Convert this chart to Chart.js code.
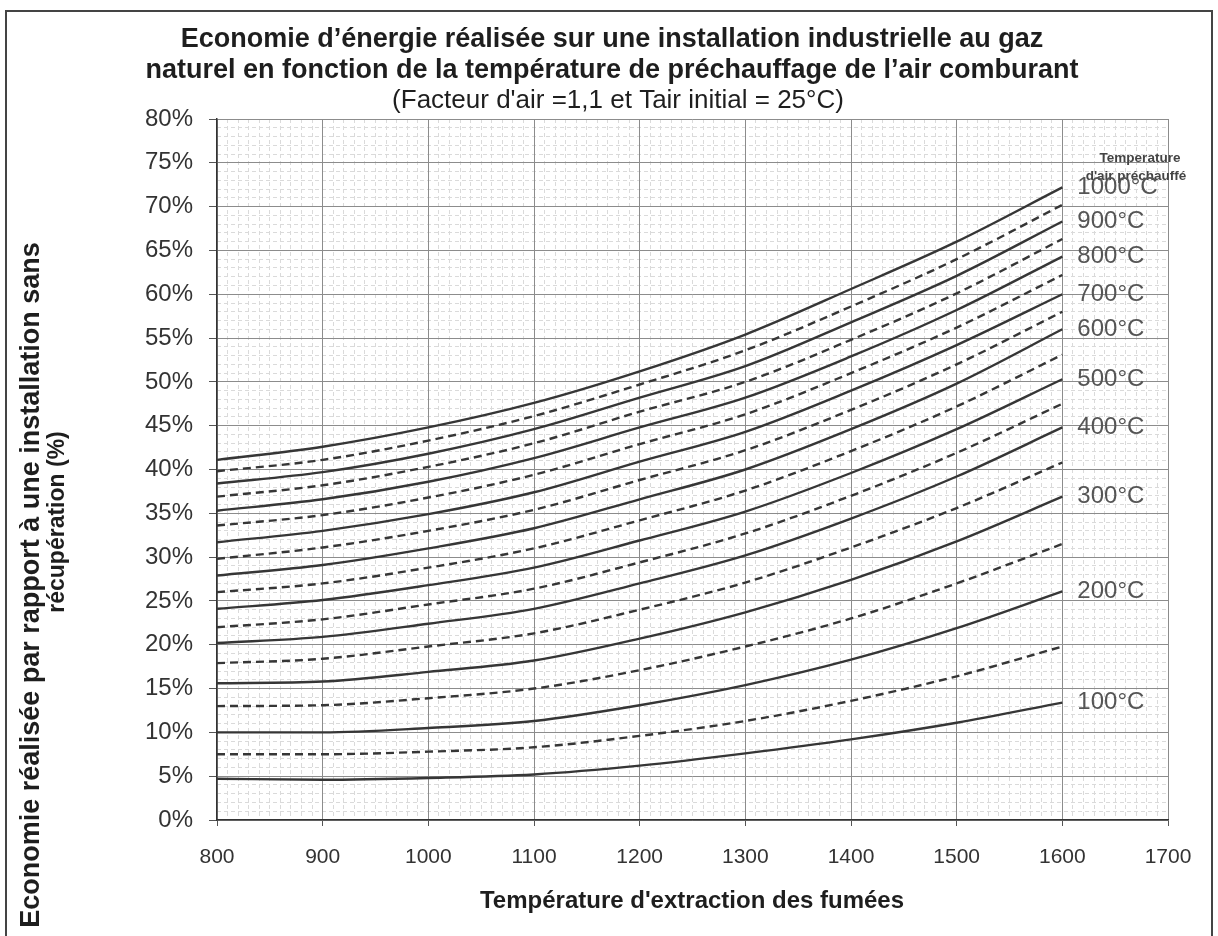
<!DOCTYPE html>
<html>
<head>
<meta charset="utf-8">
<script src="https://cdn.jsdelivr.net/npm/chart.js@4.4.1/dist/chart.umd.min.js"></script>
<style>
  body { margin: 0; background: #fff; }
  #wrap { position: relative; width: 1218px; height: 936px; }
</style>
</head>
<body>
<div id="wrap"><canvas id="chart" width="1218" height="936"></canvas></div>
<script>
// Température d'extraction des fumées (°C)
const extractionTemps = [800, 900, 1000, 1100, 1200, 1300, 1400, 1500, 1600];

// Economie réalisée (%) pour chaque température d'air préchauffé
const save100 = [4.7, 4.6, 4.8, 5.2, 6.2, 7.6, 9.2, 11.1, 13.4];
const save150 = [7.5, 7.5, 7.8, 8.3, 9.6, 11.3, 13.6, 16.4, 19.8];
const save200 = [10.0, 10.0, 10.5, 11.3, 13.1, 15.4, 18.3, 21.9, 26.1];
const save250 = [13.0, 13.1, 13.9, 15.0, 17.1, 19.8, 23.0, 27.0, 31.5];
const save300 = [15.6, 15.8, 16.9, 18.2, 20.7, 23.7, 27.4, 31.8, 36.9];
const save350 = [17.9, 18.4, 19.8, 21.3, 24.0, 27.1, 31.1, 35.6, 40.8];
const save400 = [20.2, 20.9, 22.4, 24.1, 27.0, 30.2, 34.4, 39.2, 44.8];
const save450 = [22.0, 22.9, 24.6, 26.4, 29.4, 32.7, 37.0, 41.9, 47.5];
const save500 = [24.1, 25.1, 26.8, 28.8, 31.9, 35.2, 39.6, 44.6, 50.3];
const save550 = [26.0, 27.0, 28.8, 31.0, 34.2, 37.6, 42.1, 47.2, 53.1];
const save600 = [27.9, 29.1, 31.0, 33.3, 36.6, 40.0, 44.6, 49.8, 56.0];
const save650 = [29.8, 31.1, 33.0, 35.4, 38.8, 42.2, 46.8, 52.0, 58.0];
const save700 = [31.7, 33.0, 34.9, 37.4, 40.9, 44.3, 49.0, 54.2, 60.0];
const save750 = [33.6, 34.8, 36.8, 39.4, 42.9, 46.3, 51.0, 56.2, 62.2];
const save800 = [35.3, 36.6, 38.6, 41.3, 44.8, 48.2, 52.9, 58.2, 64.3];
const save850 = [36.9, 38.2, 40.3, 43.0, 46.6, 50.0, 54.8, 60.1, 66.3];
const save900 = [38.4, 39.7, 41.8, 44.6, 48.2, 51.8, 56.8, 62.1, 68.3];
const save950 = [39.8, 41.1, 43.3, 46.1, 49.7, 53.6, 58.6, 64.0, 70.2];
const save1000 = [41.1, 42.6, 44.8, 47.6, 51.2, 55.4, 60.6, 66.0, 72.2];

const preheatTemps = [100, 150, 200, 250, 300, 350, 400, 450, 500, 550,
  600, 650, 700, 750, 800, 850, 900, 950, 1000];
const savings = [save100, save150, save200, save250, save300, save350, save400,
  save450, save500, save550, save600, save650, save700, save750, save800,
  save850, save900, save950, save1000];

const xTicks = [800, 900, 1000, 1100, 1200, 1300, 1400, 1500, 1600, 1700];
const yTicks = [0, 5, 10, 15, 20, 25, 30, 35, 40, 45, 50, 55, 60, 65, 70, 75, 80];

const lineColor = '#363636';
const FONT = '"Liberation Sans", Arial, sans-serif';

const datasets = preheatTemps.map(function (t, i) {
  const solid = t % 100 === 0;
  return {
    label: t + '°C',
    data: extractionTemps.map((x, j) => ({ x: x, y: savings[i][j] })),
    borderColor: lineColor,
    borderWidth: 2.4,
    borderDash: solid ? [] : [8, 5],
    pointRadius: 0,
    cubicInterpolationMode: 'monotone',
    fill: false,
  };
});

// Cadre, titres et étiquettes des courbes
const textPlugin = {
  id: 'textPlugin',
  beforeDraw(chart) {
    const ctx = chart.ctx;
    ctx.save();
    ctx.fillStyle = '#fff';
    ctx.fillRect(0, 0, chart.width, chart.height);
    ctx.restore();
  },
  afterDraw(chart) {
    const ctx = chart.ctx;
    const xs = chart.scales.x;
    const ys = chart.scales.y;
    ctx.save();
    // outer frame
    ctx.strokeStyle = '#444';
    ctx.lineWidth = 2;
    ctx.strokeRect(6, 11, 1206, 940);

    ctx.fillStyle = '#1e1e1e';
    ctx.textAlign = 'center';
    ctx.textBaseline = 'middle';
    ctx.font = 'bold 27px ' + FONT;
    ctx.fillText('Economie d’énergie réalisée sur une installation industrielle au gaz', 612, 40);
    ctx.fillText('naturel en fonction de la température de préchauffage de l’air comburant', 612, 71);
    ctx.font = '26px ' + FONT;
    ctx.fillText("(Facteur d'air =1,1 et Tair initial = 25°C)", 618, 101);

    // axis titles
    ctx.font = 'bold 24px ' + FONT;
    ctx.fillText("Température d'extraction des fumées", 692, 901);
    ctx.save();
    ctx.translate(32, 585);
    ctx.rotate(-Math.PI / 2);
    ctx.font = 'bold 27px ' + FONT;
    ctx.fillText('Economie réalisée par rapport à une installation sans', 0, 0);
    ctx.restore();
    ctx.save();
    ctx.translate(58, 522);
    ctx.rotate(-Math.PI / 2);
    ctx.font = 'bold 23px ' + FONT;
    ctx.fillText('récupération (%)', 0, 0);
    ctx.restore();

    // curve labels header
    ctx.fillStyle = '#444';
    ctx.font = 'bold 13.5px ' + FONT;
    ctx.fillText('Temperature', 1140, 158);
    ctx.fillText("d'air préchauffé", 1136, 176);

    // labels at the end of the solid curves
    ctx.textAlign = 'left';
    ctx.font = '24px ' + FONT;
    ctx.fillStyle = '#555';
    preheatTemps.forEach(function (t, i) {
      if (t % 100 !== 0) return;
      const last = savings[i][savings[i].length - 1];
      const px = xs.getPixelForValue(extractionTemps[extractionTemps.length - 1]) + 15;
      const py = ys.getPixelForValue(last);
      ctx.fillText(t + '°C', px, py);
    });
    ctx.restore();
  },
};

new Chart(document.getElementById('chart').getContext('2d'), {
  type: 'line',
  data: { datasets },
  options: {
    responsive: false,
    animation: false,
    devicePixelRatio: 1,
    layout: { padding: { top: 119, right: 50, left: 0, bottom: 0 } },
    plugins: { legend: { display: false }, title: { display: false }, tooltip: { enabled: false } },
    scales: {
      xMinor: {
        type: 'linear', position: 'bottom', min: 800, max: 1700, z: -2,
        ticks: { display: false, stepSize: 10 },
        grid: { color: '#dadada', lineWidth: 1, drawTicks: false },
        border: { display: false, dash: [4, 3] },
        afterFit: (s) => { s.height = 0; },
      },
      yMinor: {
        type: 'linear', position: 'left', min: 0, max: 80, z: -2,
        ticks: { display: false, stepSize: 1 },
        grid: { color: '#dadada', lineWidth: 1, drawTicks: false },
        border: { display: false, dash: [4, 3] },
        afterFit: (s) => { s.width = 0; },
      },
      x: {
        type: 'linear', position: 'bottom', min: 800, max: 1700, z: -1,
        afterBuildTicks: (s) => { s.ticks = xTicks.map((v) => ({ value: v })); },
        ticks: { color: '#333', font: { size: 21, family: FONT }, padding: 19, maxRotation: 0,
          callback: (v) => String(v) },
        grid: { color: '#8c8c8c', lineWidth: 1, tickLength: 6, tickColor: '#555' },
        border: { color: '#333', width: 1.5 },
        afterFit: (s) => { s.height = 116; },
      },
      y: {
        type: 'linear', position: 'left', min: 0, max: 80, z: -1,
        afterBuildTicks: (s) => { s.ticks = yTicks.map((v) => ({ value: v })); },
        ticks: { color: '#333', font: { size: 24, family: FONT }, padding: 16, callback: (v) => v + '%' },
        grid: { color: '#8c8c8c', lineWidth: 1, tickLength: 8, tickColor: '#555' },
        border: { color: '#333', width: 1.5 },
        afterFit: (s) => { s.width = 217; },
      },
    },
  },
  plugins: [textPlugin],
});
</script>
</body>
</html>
